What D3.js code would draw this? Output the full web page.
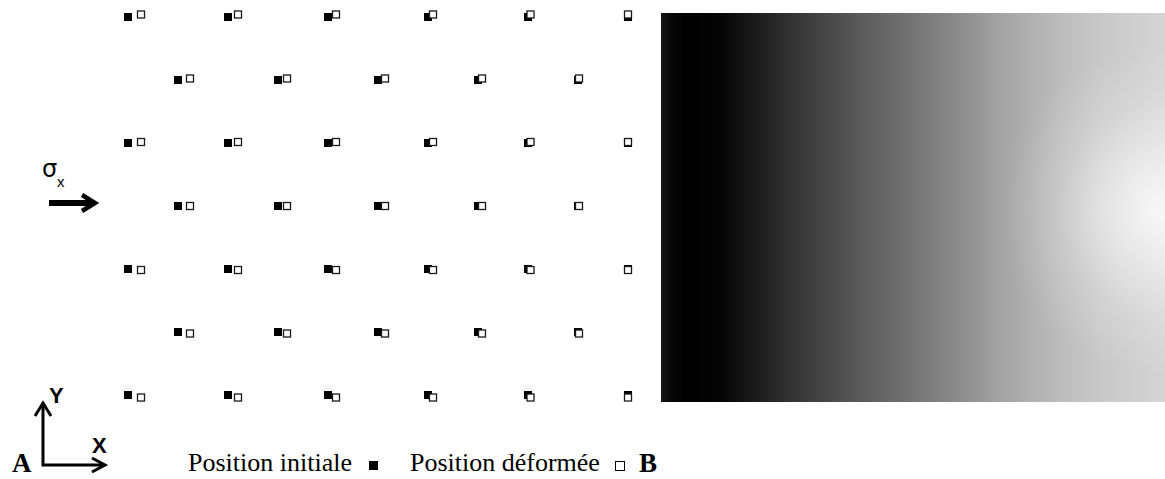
<!DOCTYPE html>
<html>
<head>
<meta charset="utf-8">
<script src="https://cdn.jsdelivr.net/npm/d3@7"></script>
<style>
  body { margin: 0; background: #fff; }
</style>
</head>
<body>
<script>
const width = 1165;
const height = 479;

// gauge points: column index (half pitch) and row index
const evenCols = [0, 2, 4, 6, 8, 10];
const oddCols = [1, 3, 5, 7, 9];
const rows = [0, 1, 2, 3, 4, 5, 6];

// displacement, in grid units
const dispX = [0.26, 0.24, 0.20, 0.18, 0.16, 0.14, 0.10, 0.08, 0.05, 0.02, 0.0];
const dispY = [-0.04, -0.024, -0.016, 0, 0.016, 0.024, 0.04];

// grey level of the field map along the specimen (0 = left, 1 = right)
const fieldPos = [0, 0.018, 0.048, 0.117, 0.196, 0.276, 0.395, 0.474, 0.593, 0.673, 0.79, 0.871, 1];
const fieldGrey = [22, 8, 0, 4, 30, 56, 90, 110, 140, 163, 188, 200, 212];

// bright spot at the right edge: white opacity against radius
const spotPos = [0, 0.4, 0.65, 1];
const spotAlpha = [0.85, 0.45, 0.18, 0];

const legendLabels = ["Position initiale", "Position déformée"];

const svg = d3.select("body")
    .append("svg")
    .attr("width", width)
    .attr("height", height);

const x = d3.scaleLinear().domain([0, 10]).range([128, 628]);
const y = d3.scaleLinear().domain([0, 6]).range([17, 395]);
const grey = g => d3.rgb(g, g, g).formatHex();

const points = rows.flatMap(r => (r % 2 === 0 ? evenCols : oddCols).map(c => ({ c, r })));

// initial positions
svg.append("g")
  .selectAll("rect")
  .data(points)
  .join("rect")
    .attr("x", d => x(d.c) - 4)
    .attr("y", d => y(d.r) - 4)
    .attr("width", 8)
    .attr("height", 8)
    .attr("fill", "#000");

// deformed positions
svg.append("g")
  .selectAll("rect")
  .data(points)
  .join("rect")
    .attr("x", d => x(d.c + dispX[d.c]) - 3.5)
    .attr("y", d => y(d.r + dispY[d.r]) - 3.5)
    .attr("width", 7)
    .attr("height", 7)
    .attr("fill", "#fff")
    .attr("stroke", "#1a1a1a")
    .attr("stroke-width", 1.3);

// field map
const defs = svg.append("defs");
const lin = defs.append("linearGradient").attr("id", "field");
lin.selectAll("stop")
  .data(fieldPos)
  .join("stop")
    .attr("offset", d => d)
    .attr("stop-color", (d, i) => grey(fieldGrey[i]));

const spot = defs.append("radialGradient")
    .attr("id", "spot")
    .attr("gradientUnits", "userSpaceOnUse")
    .attr("cx", 1165).attr("cy", 210).attr("r", 165);
spot.selectAll("stop")
  .data(spotPos)
  .join("stop")
    .attr("offset", d => d)
    .attr("stop-color", "#fff")
    .attr("stop-opacity", (d, i) => spotAlpha[i]);

svg.append("rect")
    .attr("x", 661).attr("y", 13)
    .attr("width", 504).attr("height", 389)
    .attr("fill", "url(#field)");
svg.append("rect")
    .attr("x", 661).attr("y", 13)
    .attr("width", 504).attr("height", 389)
    .attr("fill", "url(#spot)");

// load arrow
svg.append("text")
    .attr("x", 42).attr("y", 177)
    .attr("font-family", "DejaVu Sans, sans-serif")
    .attr("font-size", 24)
    .text("σ");
svg.append("text")
    .attr("x", 57).attr("y", 187)
    .attr("font-family", "Liberation Sans, Arial, sans-serif")
    .attr("font-size", 15)
    .text("x");
svg.append("path")
    .attr("d", "M49,203H92")
    .attr("stroke", "#000").attr("stroke-width", 6).attr("fill", "none");
svg.append("path")
    .attr("d", "M82,195L95,203L82,211")
    .attr("stroke", "#000").attr("stroke-width", 4.5)
    .attr("stroke-linejoin", "miter").attr("fill", "none");

// axes
const axes = svg.append("g")
    .attr("stroke", "#000").attr("stroke-width", 3).attr("fill", "none");
axes.append("path").attr("d", "M43,403V465H104");
axes.append("path").attr("d", "M35,416L43,403L51,416");
axes.append("path").attr("d", "M92,458L105,465L92,472");
svg.append("text")
    .attr("x", 49).attr("y", 403)
    .attr("font-family", "Liberation Sans, Arial, sans-serif")
    .attr("font-size", 22).attr("font-weight", "bold")
    .text("Y");
svg.append("text")
    .attr("x", 92).attr("y", 453)
    .attr("font-family", "Liberation Sans, Arial, sans-serif")
    .attr("font-size", 22).attr("font-weight", "bold")
    .text("X");

const serif = "Liberation Serif, Times New Roman, serif";
svg.append("text")
    .attr("x", 12).attr("y", 472)
    .attr("font-family", serif).attr("font-size", 27).attr("font-weight", "bold")
    .text("A");
svg.append("text")
    .attr("x", 639).attr("y", 472)
    .attr("font-family", serif).attr("font-size", 27).attr("font-weight", "bold")
    .text("B");

// legend
svg.append("text")
    .attr("x", 188).attr("y", 471)
    .attr("font-family", serif).attr("font-size", 26)
    .text(legendLabels[0]);
svg.append("rect")
    .attr("x", 369).attr("y", 461).attr("width", 9).attr("height", 9)
    .attr("fill", "#000");
svg.append("text")
    .attr("x", 410).attr("y", 471)
    .attr("font-family", serif).attr("font-size", 26)
    .text(legendLabels[1]);
svg.append("rect")
    .attr("x", 615.5).attr("y", 461.5).attr("width", 9).attr("height", 9)
    .attr("fill", "#fff").attr("stroke", "#000").attr("stroke-width", 1);
</script>
</body>
</html>
